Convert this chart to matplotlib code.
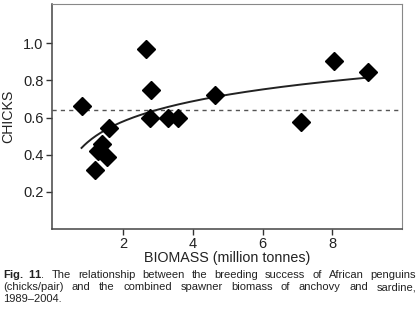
import numpy as np
import matplotlib
matplotlib.use("Agg")
import matplotlib.pyplot as plt

plt.rcParams['font.family'] = ['Liberation Sans', 'DejaVu Sans']
plt.rcParams['mathtext.fontset'] = 'custom'
plt.rcParams['mathtext.rm'] = 'Liberation Sans'
plt.rcParams['mathtext.bf'] = 'Liberation Sans:bold'

# penguin breeding success vs anchovy + sardine biomass
biomass = [0.8, 1.19, 1.26, 1.40, 1.52, 1.60, 2.66, 2.80, 2.77, 3.29, 3.58, 4.64, 7.10, 8.04, 9.04]
chicks = [0.66, 0.32, 0.42, 0.46, 0.39, 0.545, 0.97, 0.75, 0.60, 0.60, 0.60, 0.72, 0.577, 0.906, 0.844]
mean_chicks = 0.643

x_ticks = [2, 4, 6, 8]
y_ticks = [0.2, 0.4, 0.6, 0.8, 1.0]

caption_lines = [
    r"$\mathbf{Fig.\ 11}$. The relationship between the breeding success of African penguins",
    "(chicks/pair) and the combined spawner biomass of anchovy and sardine,",
    "1989\u20132004.",
]

fig = plt.figure(figsize=(4.19, 3.13), dpi=100)
ax = fig.add_axes([0.124, 0.268, 0.835, 0.719])

# log fit through the points
b, a = np.polyfit(np.log(biomass), chicks, 1)
xs = np.linspace(min(biomass), max(biomass), 200)
ax.plot(xs, a + b * np.log(xs), color='#222222', lw=1.4, zorder=2)

ax.axhline(mean_chicks, color='#555555', lw=1.0, ls=(0, (3, 3)), zorder=1)
ax.plot(biomass, chicks, ls='none', marker='D', ms=9, color='black', zorder=3)

ax.set_xlim(-0.05, 10.0)
ax.set_ylim(0, 1.21)
ax.set_xticks(x_ticks)
ax.set_yticks(y_ticks)
ax.set_yticklabels(['%.1f' % v for v in y_ticks])
ax.tick_params(axis='both', direction='out', length=4, width=1, colors='#333333',
               labelsize=10.5, labelcolor='#222222', pad=2)
for side in ['top', 'right']:
    ax.spines[side].set_color('#888888')
for side in ['left', 'bottom']:
    ax.spines[side].set_color('#444444')
    ax.spines[side].set_linewidth(1.1)

ax.set_xlabel('BIOMASS (million tonnes)', fontsize=10.3, color='#222222', labelpad=0)
ax.set_ylabel('CHICKS', fontsize=10.2, color='#222222', labelpad=6)

# justified caption, one text per word
fig.canvas.draw()
r = fig.canvas.get_renderer()
left_px, right_px = 3, 416
centers = [274.6, 287.0, 299.4]
fs = 8.0
for i, line in enumerate(caption_lines):
    y = 1 - centers[i] / 313
    if i == 0:
        head, rest = line.split('. ', 1)
        words = [head + '.'] + rest.split(' ')
    else:
        words = line.split(' ')
    widths = []
    for w in words:
        t = fig.text(0, 0, w, fontsize=fs)
        widths.append(t.get_window_extent(r).width)
        t.remove()
    if i < len(caption_lines) - 1:
        gap = (right_px - left_px - sum(widths)) / (len(words) - 1)
    else:
        gap = 3
    x = left_px
    for w, wd in zip(words, widths):
        fig.text(x / 419, y, w, fontsize=fs, color='#222222', va='center')
        x += wd + gap

fig.savefig('out.png', dpi=100)
